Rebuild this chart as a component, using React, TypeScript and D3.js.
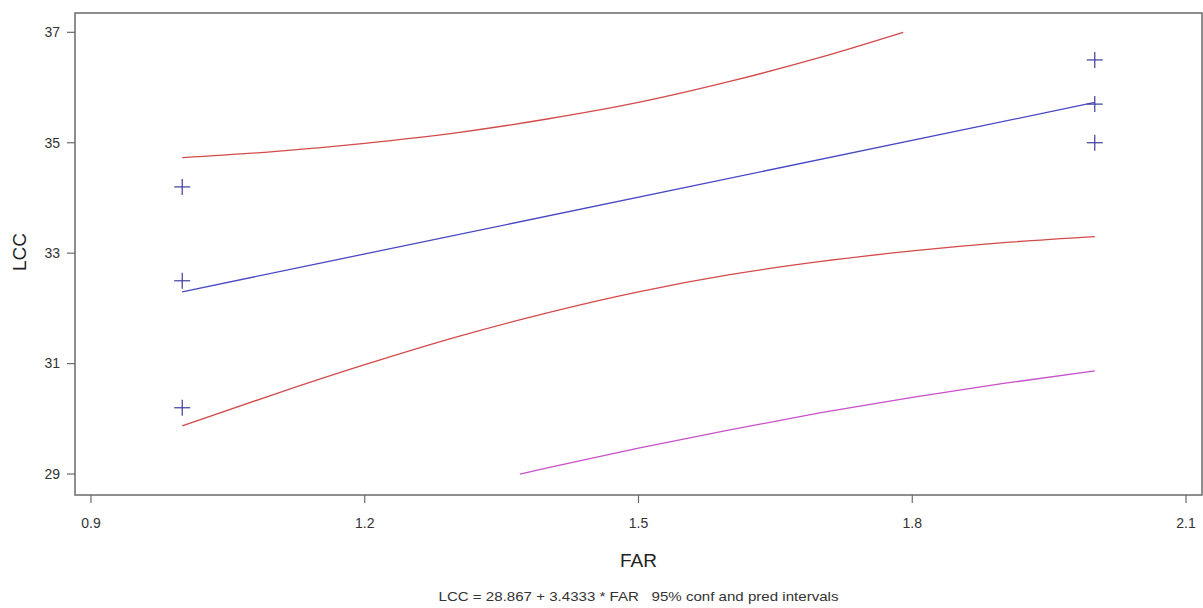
import React, { useRef, useEffect } from "react";
import * as d3 from "d3";

// observed data (FAR, LCC)
const obsFar = [1, 1, 1, 2, 2, 2];
const obsLcc = [34.2, 32.5, 30.2, 36.5, 35.7, 35.0];

// fitted line
const fitFar = [1, 2];
const fitLcc = [32.3, 35.73];

// 95% confidence band (upper is cut at the top of the axis)
const upperConfFar = [1.0, 1.1, 1.2, 1.3, 1.4, 1.5, 1.6, 1.7, 1.79];
const upperConfLcc = [34.73, 34.84, 34.99, 35.18, 35.43, 35.73, 36.11, 36.55, 37.0];
const lowerConfFar = [1.0, 1.1, 1.2, 1.3, 1.4, 1.5, 1.6, 1.7, 1.8, 1.9, 2.0];
const lowerConfLcc = [29.87, 30.44, 30.98, 31.48, 31.92, 32.3, 32.61, 32.85, 33.04, 33.19, 33.3];

// lower 95% prediction limit (cut at the bottom of the axis)
const lowerPredFar = [1.37, 1.4, 1.5, 1.6, 1.7, 1.8, 1.9, 2.0];
const lowerPredLcc = [29.0, 29.11, 29.47, 29.8, 30.11, 30.39, 30.64, 30.87];

const xTicks = [0.9, 1.2, 1.5, 1.8, 2.1];
const yTicks = [29, 31, 33, 35, 37];

const W = 1203;
const H = 608;

export default function App() {
  const ref = useRef<SVGSVGElement>(null);

  useEffect(() => {
    if (!ref.current) return;
    const svg = d3.select(ref.current);
    svg.selectAll("*").remove();

    const left = 75, right = 1202, top = 13, bottom = 495;
    const font = "Liberation Sans, Arial, sans-serif";

    const x = d3.scaleLinear().domain([0.8825, 2.1175]).range([left, right]);
    const y = d3.scaleLinear().domain([28.62, 37.35]).range([bottom, top]);

    svg.append("rect").attr("width", W).attr("height", H).attr("fill", "#fff");

    const line = d3
      .line<[number, number]>()
      .x((d) => x(d[0]))
      .y((d) => y(d[1]))
      .curve(d3.curveMonotoneX);

    const draw = (fx: number[], fy: number[], color: string) => {
      svg
        .append("path")
        .datum(fx.map((v, i) => [v, fy[i]] as [number, number]))
        .attr("d", line)
        .attr("fill", "none")
        .attr("stroke", color)
        .attr("stroke-width", 1.3);
    };

    draw(upperConfFar, upperConfLcc, "#d24a4a");
    draw(lowerConfFar, lowerConfLcc, "#d24a4a");
    draw(lowerPredFar, lowerPredLcc, "#c850c8");
    draw(fitFar, fitLcc, "#4848c4");

    // + markers
    const m = 8;
    const pts = svg
      .append("g")
      .attr("stroke", "#3c3c9c")
      .attr("stroke-width", 1.2);
    obsFar.forEach((f, i) => {
      const cx = x(f);
      const cy = y(obsLcc[i]);
      pts.append("line").attr("x1", cx - m).attr("x2", cx + m).attr("y1", cy).attr("y2", cy);
      pts.append("line").attr("x1", cx).attr("x2", cx).attr("y1", cy - m).attr("y2", cy + m);
    });

    // frame
    svg
      .append("rect")
      .attr("x", left)
      .attr("y", top)
      .attr("width", right - left)
      .attr("height", bottom - top)
      .attr("fill", "none")
      .attr("stroke", "#6a6a6a")
      .attr("stroke-width", 1.5);

    // x ticks
    const gx = svg.append("g");
    xTicks.forEach((t) => {
      gx.append("line")
        .attr("x1", x(t))
        .attr("x2", x(t))
        .attr("y1", bottom)
        .attr("y2", bottom + 8)
        .attr("stroke", "#6a6a6a")
        .attr("stroke-width", 1.2);
      gx.append("text")
        .attr("x", x(t))
        .attr("y", 528)
        .attr("text-anchor", "middle")
        .attr("font-family", font)
        .attr("font-size", 14)
        .attr("fill", "#333")
        .text(d3.format(".1f")(t));
    });

    // y ticks
    const gy = svg.append("g");
    yTicks.forEach((t) => {
      gy.append("line")
        .attr("x1", left - 8)
        .attr("x2", left)
        .attr("y1", y(t))
        .attr("y2", y(t))
        .attr("stroke", "#6a6a6a")
        .attr("stroke-width", 1.2);
      gy.append("text")
        .attr("x", 60)
        .attr("y", y(t))
        .attr("dy", "0.35em")
        .attr("text-anchor", "end")
        .attr("font-family", font)
        .attr("font-size", 14)
        .attr("fill", "#333")
        .text(t);
    });

    svg
      .append("text")
      .attr("transform", `translate(26,252) rotate(-90)`)
      .attr("text-anchor", "middle")
      .attr("font-family", font)
      .attr("font-size", 19)
      .attr("fill", "#222")
      .text("LCC");

    svg
      .append("text")
      .attr("x", (left + right) / 2)
      .attr("y", 567)
      .attr("text-anchor", "middle")
      .attr("font-family", font)
      .attr("font-size", 19)
      .attr("fill", "#222")
      .text("FAR");

    svg
      .append("text")
      .attr("x", (left + right) / 2)
      .attr("y", 601)
      .attr("text-anchor", "middle")
      .attr("font-family", font)
      .attr("font-size", 13)
      .attr("fill", "#333")
      .attr("textLength", 400)
      .attr("lengthAdjust", "spacingAndGlyphs")
      .style("white-space", "pre")
      .text("LCC = 28.867 + 3.4333 * FAR   95% conf and pred intervals");
  }, []);

  return (
    <svg
      ref={ref}
      width={W}
      height={H}
      style={{ position: "absolute", left: 0, top: 0 }}
    />
  );
}
